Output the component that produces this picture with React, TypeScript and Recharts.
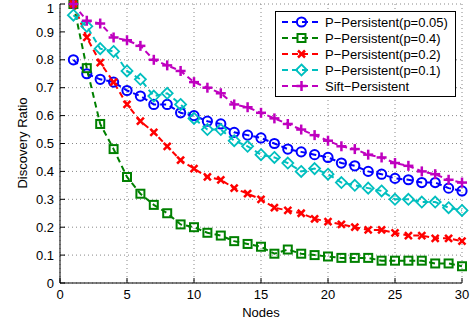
import { LineChart, Line, XAxis, YAxis, CartesianGrid, Legend } from 'recharts'

const nodes = [1, 2, 3, 4, 5, 6, 7, 8, 9, 10, 11, 12, 13, 14, 15, 16, 17, 18, 19, 20, 21, 22, 23, 24, 25, 26, 27, 28, 29, 30]
const p005 = [0.8, 0.75, 0.73, 0.72, 0.69, 0.67, 0.64, 0.64, 0.61, 0.6, 0.58, 0.57, 0.54, 0.53, 0.52, 0.5, 0.48, 0.47, 0.46, 0.45, 0.43, 0.42, 0.4, 0.39, 0.375, 0.37, 0.36, 0.36, 0.34, 0.33]
const p04 = [1.0, 0.77, 0.57, 0.48, 0.38, 0.32, 0.28, 0.25, 0.21, 0.2, 0.18, 0.17, 0.15, 0.14, 0.13, 0.105, 0.12, 0.105, 0.1, 0.095, 0.09, 0.09, 0.09, 0.08, 0.08, 0.08, 0.08, 0.07, 0.07, 0.06]
const p02 = [1.0, 0.88, 0.79, 0.72, 0.64, 0.58, 0.54, 0.49, 0.44, 0.41, 0.38, 0.37, 0.34, 0.32, 0.3, 0.27, 0.26, 0.25, 0.23, 0.22, 0.21, 0.2, 0.19, 0.19, 0.18, 0.17, 0.17, 0.16, 0.16, 0.15]
const p01 = [0.96, 0.92, 0.84, 0.83, 0.76, 0.73, 0.67, 0.68, 0.64, 0.59, 0.55, 0.55, 0.51, 0.49, 0.46, 0.45, 0.43, 0.4, 0.41, 0.39, 0.36, 0.35, 0.34, 0.33, 0.3, 0.3, 0.29, 0.29, 0.27, 0.26]
const sift = [1.0, 0.94, 0.93, 0.88, 0.87, 0.85, 0.8, 0.78, 0.76, 0.72, 0.7, 0.68, 0.64, 0.63, 0.61, 0.59, 0.57, 0.55, 0.53, 0.51, 0.49, 0.48, 0.46, 0.45, 0.43, 0.42, 0.4, 0.39, 0.37, 0.36]

const xTicks = [0, 5, 10, 15, 20, 25, 30]
const yTicks = [0, 0.1, 0.2, 0.3, 0.4, 0.5, 0.6, 0.7, 0.8, 0.9, 1]
const yTickLabels = ['0', '0.1', '0.2', '0.3', '0.4', '0.5', '0.6', '0.7', '0.8', '0.9', '1']

const series = [
  { key: 'p005', name: 'P\u2212Persistent(p=0.05)', color: '#0000ff', marker: 'circle' },
  { key: 'p04', name: 'P\u2212Persistent(p=0.4)', color: '#008000', marker: 'square' },
  { key: 'p02', name: 'P\u2212Persistent(p=0.2)', color: '#ff0000', marker: 'x' },
  { key: 'p01', name: 'P\u2212Persistent(p=0.1)', color: '#00bfbf', marker: 'diamond' },
  { key: 'sift', name: 'Sift\u2212Persistent', color: '#bf00bf', marker: 'plus' },
]

const data = nodes.map((n, i) => ({ n, p005: p005[i], p04: p04[i], p02: p02[i], p01: p01[i], sift: sift[i] }))

const FONT = '"Liberation Sans", Arial, Helvetica, sans-serif'

const Marker = ({ kind, cx, cy, color }: { kind: string; cx: number; cy: number; color: string }) => {
  if (cx == null || cy == null) return null
  switch (kind) {
    case 'circle':
      return <circle cx={cx} cy={cy} r={4.6} fill="none" stroke={color} strokeWidth={2} />
    case 'square':
      return <rect x={cx - 4} y={cy - 4} width={8} height={8} fill="none" stroke={color} strokeWidth={2} />
    case 'x':
      return (
        <g stroke={color} strokeWidth={2.5}>
          <line x1={cx - 3.5} y1={cy - 3.5} x2={cx + 3.5} y2={cy + 3.5} />
          <line x1={cx - 3.5} y1={cy + 3.5} x2={cx + 3.5} y2={cy - 3.5} />
        </g>
      )
    case 'diamond':
      return (
        <polygon
          points={`${cx},${cy - 5.5} ${cx + 5.5},${cy} ${cx},${cy + 5.5} ${cx - 5.5},${cy}`}
          fill="none"
          stroke={color}
          strokeWidth={1.8}
        />
      )
    default:
      return (
        <g stroke={color} strokeWidth={2.5}>
          <line x1={cx - 5} y1={cy} x2={cx + 5} y2={cy} />
          <line x1={cx} y1={cy - 5} x2={cx} y2={cy + 5} />
        </g>
      )
  }
}

const LegendBox = () => (
  <svg width={182} height={87} style={{ display: 'block' }}>
    <rect x={0.5} y={0.5} width={180} height={85} fill="#fff" stroke="#000" strokeWidth={1} />
    {series.map((s, i) => {
      const y = 11 + i * 16
      return (
        <g key={s.key}>
          <line x1={7} y1={y} x2={47} y2={y} stroke={s.color} strokeWidth={2} strokeDasharray="6 4" />
          <Marker kind={s.marker} cx={26.5} cy={y} color={s.color} />
          <text x={50} y={y} dominantBaseline="central" fontSize={13} fontFamily={FONT} fill="#000">
            {s.name}
          </text>
        </g>
      )
    })}
  </svg>
)

const tickStyle = { fontSize: 13, fill: '#000', fontFamily: FONT }

export default function App() {
  return (
    <div style={{ position: 'absolute', left: 0, top: 0, background: '#fff', fontFamily: FONT }}>
      <LineChart width={474} height={324} data={data} margin={{ top: 4, right: 12, left: 0, bottom: 0 }}>
        <CartesianGrid stroke="#888" strokeDasharray="1 3" />
        <XAxis
          dataKey="n"
          type="number"
          domain={[0, 30]}
          ticks={xTicks}
          height={41}
          stroke="#000"
          tickSize={-5}
          tickMargin={12}
          tick={tickStyle}
          label={{ value: 'Nodes', position: 'insideBottom', offset: 7, fontSize: 13, fill: '#000', fontFamily: FONT }}
        />
        <XAxis
          xAxisId="top"
          orientation="top"
          type="number"
          domain={[0, 30]}
          ticks={xTicks}
          height={0}
          stroke="#000"
          tickSize={-5}
          tickFormatter={() => ''}
        />
        <YAxis
          type="number"
          domain={[0, 1]}
          ticks={yTicks}
          width={60}
          stroke="#000"
          tickSize={-5}
          tickMargin={11}
          tick={tickStyle}
          tickFormatter={(v: number) => yTickLabels[yTicks.indexOf(v)] ?? String(v)}
          label={{
            content: () => (
              <text
                x={22}
                y={143}
                transform="rotate(-90 22 143)"
                textAnchor="middle"
                dominantBaseline="central"
                fontSize={13}
                fontFamily={FONT}
                fill="#000"
              >
                Discovery Ratio
              </text>
            ),
          }}
        />
        <YAxis
          yAxisId="right"
          orientation="right"
          type="number"
          domain={[0, 1]}
          ticks={yTicks}
          width={0}
          stroke="#000"
          tickSize={-5}
          tickFormatter={() => ''}
        />
        {series.map((s) => (
          <Line
            key={s.key}
            dataKey={s.key}
            name={s.name}
            type="linear"
            stroke={s.color}
            strokeWidth={2}
            strokeDasharray="6 4"
            isAnimationActive={false}
            dot={(p: any) => <Marker key={`${s.key}-${p.index}`} kind={s.marker} cx={p.cx} cy={p.cy} color={s.color} />}
            activeDot={false}
          />
        ))}
        <Legend
          layout="vertical"
          align="center"
          verticalAlign="middle"
          wrapperStyle={{ left: 275, top: 11, width: 182, height: 87 }}
          content={() => <LegendBox />}
        />
      </LineChart>
    </div>
  )
}
